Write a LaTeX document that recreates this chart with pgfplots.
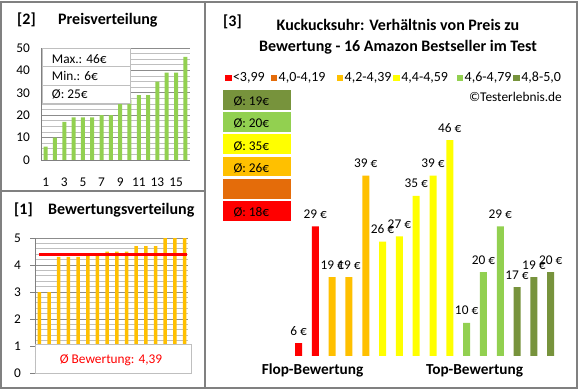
\documentclass[border=0pt]{standalone}
\usepackage{pgfplots}
\pgfplotsset{compat=1.18}
\usepackage{fontspec}
\setmainfont{Carlito}
\definecolor{cred}{HTML}{FF0000}
\definecolor{cdorange}{HTML}{E46C0A}
\definecolor{corange}{HTML}{FFC000}
\definecolor{cyellow}{HTML}{FFFF00}
\definecolor{cgreen}{HTML}{92D050}
\definecolor{cdgreen}{HTML}{77933C}
\definecolor{bordergray}{HTML}{808080}
\definecolor{gridmaj}{HTML}{8C8C8C}
\definecolor{gridmin}{HTML}{BFBFBF}
\newcommand\fa{\fontsize{13.33}{16}\selectfont}
\newcommand\fl{\fontsize{14}{16}\selectfont}
\newcommand\fb{\fontsize{16}{20}\selectfont\bfseries}
\newcommand\fd{\fontsize{15.3}{20}\selectfont\bfseries}
\pgfplotsset{/pgf/number format/assume math mode=true}
\begin{document}
\begin{tikzpicture}
\begin{scope}[x=1pt,y=1pt]
\useasboundingbox (0,0) rectangle (580,390);
\fill[white] (0,0) rectangle (580,390);
\end{scope}

% ---------- Panel [2] Preisverteilung ----------
\begin{axis}[
  at={(41pt,230pt)}, anchor=south west, scale only axis,
  width=149pt, height=112pt,
  xmin=0.5, xmax=16.5, ymin=0, ymax=50,
  ytick={0,10,...,50}, minor y tick num=3, xtick={1,3,...,15},
  ymajorgrids, yminorgrids,
  major grid style={draw=gridmaj, line width=0.7pt},
  minor grid style={draw=gridmin, line width=0.7pt},
  axis x line*=bottom, axis y line*=left,
  axis line style={draw=bordergray, line width=0.8pt, -},
  major tick length=0pt, minor tick length=0pt,
  ticklabel style={font=\fa},
  yticklabel style={anchor=east, inner sep=0pt, xshift=-11pt},
  xticklabel style={anchor=north, inner sep=0pt, yshift=-18pt},
  ybar, bar width=4pt, bar shift=0pt,
]
\addplot[fill=cgreen, draw=none] coordinates {
 (1,6) (2,10) (3,17) (4,19) (5,19) (6,19) (7,20) (8,20)
 (9,26) (10,27) (11,29) (12,29) (13,35) (14,39) (15,39) (16,46)};
\end{axis}

% ---------- Panel [1] Bewertungsverteilung ----------
\begin{axis}[
  at={(35pt,17pt)}, anchor=south west, scale only axis,
  width=153pt, height=135pt,
  xmin=0.55, xmax=16.35, ymin=0, ymax=5,
  ytick={0,1,...,5}, minor y tick num=4, xtick=\empty,
  ymajorgrids, yminorgrids,
  major grid style={draw=gridmaj, line width=0.7pt},
  minor grid style={draw=gridmin, line width=0.7pt},
  axis x line*=bottom, axis y line*=left,
  axis line style={draw=bordergray, line width=0.8pt, -},
  tick align=outside, major tick length=5pt, minor tick length=0pt,
  major tick style={draw=bordergray, line width=0.8pt},
  ticklabel style={font=\fa},
  yticklabel style={anchor=east, inner sep=0pt, xshift=-9pt},
  ybar, bar width=3.5pt, bar shift=0pt,
]
\addplot[fill=corange, draw=none] coordinates {
 (1,3) (2,3) (3,4.3) (4,4.3) (5,4.3) (6,4.4) (7,4.4) (8,4.5)
 (9,4.5) (10,4.5) (11,4.7) (12,4.7) (13,4.7) (14,5) (15,5) (16,5)};
\addplot[sharp plot, draw=cred, line width=3pt] coordinates {(0.95,4.39) (16.25,4.39)};
\end{axis}

% ---------- Panel [3] ----------
\begin{axis}[
  at={(281.7pt,34pt)}, anchor=south west, scale only axis,
  width=285.8pt, height=246.4pt,
  xmin=0, xmax=17, ymin=3.45, ymax=52,
  hide axis,
  ybar, bar width=7pt, bar shift=0pt,
  nodes near coords={\pgfmathprintnumber{\pgfplotspointmeta}~€},
  every node near coord/.append style={font=\fa, text=black, anchor=base, yshift=8pt, inner sep=0pt},
]
\addplot[fill=cred, draw=none] coordinates {(1,6) (2,29)};
\addplot[fill=corange, draw=none] coordinates {(3,19) (4,19) (5,39)};
\addplot[fill=cyellow, draw=none] coordinates {(6,26) (7,27) (8,35) (9,39) (10,46)};
\addplot[fill=cgreen, draw=none] coordinates {(11,10) (12,20) (13,29)};
\addplot[fill=cdgreen, draw=none] coordinates {(14,17) (15,19) (16,20)};
\end{axis}

\begin{scope}[x=1pt,y=1pt]
\draw[fill=white, draw=gridmin, line width=0.8pt] (42,287) rectangle (130,342);
\draw[gridmin, line width=0.8pt] (42,323.3) -- (130,323.3) (42,305) -- (130,305);
\node[anchor=base west, inner sep=0pt, font=\fa] at (51.7,326.7) {Max.: 46€};
\node[anchor=base west, inner sep=0pt, font=\fa] at (51.7,309) {Min.: 6€};
\node[anchor=base west, inner sep=0pt, font=\fa] at (51.7,291.5) {Ø: 25€};
\node[anchor=base west, inner sep=0pt, font=\fb] at (17,365) {[2]};
\node[anchor=base west, inner sep=0pt, font=\fb] at (58,365) {Preisverteilung};

\draw[fill=white, draw=gridmin, line width=0.8pt] (35,17) rectangle (191,46);
\node[anchor=base, inner sep=0pt, font=\fa, text=cred] at (111,26) {Ø Bewertung: 4,39};
\node[anchor=base west, inner sep=0pt, font=\fb] at (14,175) {[1]};
\node[anchor=base west, inner sep=0pt, font=\fb] at (48,175) {Bewertungsverteilung};

\node[anchor=base west, inner sep=0pt, font=\fb] at (223,363) {[3]};
\node[anchor=base, inner sep=0pt, font=\fb] at (398,359.3) {Kuckucksuhr: Verhältnis von Preis zu};
\node[anchor=base, inner sep=0pt, font=\fb] at (398,338.3) {Bewertung - 16 Amazon Bestseller im Test};

\foreach \xx/\cc/\tt in {225/cred/{<3,99}, 270.7/cdorange/{4,0-4,19}, 336.7/corange/{4,2-4,39}, 393.3/cyellow/{4,4-4,59}, 456.7/cgreen/{4,6-4,79}, 513.3/cdgreen/{4,8-5,0}}{
  \fill[\cc] (\xx,308.5) rectangle ++(6.7,6.7);
  \node[anchor=base west, inner sep=0pt, font=\fl] at (\xx+7.8,308.3) {\tt};
}
\node[anchor=base east, inner sep=0pt, font=\fa] at (562,288.3) {©Testerlebnis.de};

\foreach \i/\cc/\tt in {0/cdgreen/{Ø: 19€}, 1/cgreen/{Ø: 20€}, 2/cyellow/{Ø: 35€}, 3/corange/{Ø: 26€}, 4/cdorange/{}, 5/cred/{Ø: 18€}}{
  \fill[\cc] (223,{390-90-22.2*\i-19.8}) rectangle (290.7,{390-90-22.2*\i});
  \node[anchor=base west, inner sep=0pt, font=\fa] at (233.3,{390-90-22.2*\i-19.8+4}) {\tt};
}

\node[anchor=base, inner sep=0pt, font=\fd] at (312.5,15) {Flop-Bewertung};
\node[anchor=base, inner sep=0pt, font=\fd] at (474.5,15) {Top-Bewertung};

\draw[bordergray, line width=1.2pt] (1,2) rectangle (577,388);
\draw[bordergray, line width=1.2pt] (205,2) -- (205,388);
\draw[bordergray, line width=1.2pt] (1,199) -- (205,199);
\end{scope}
\end{tikzpicture}
\end{document}
